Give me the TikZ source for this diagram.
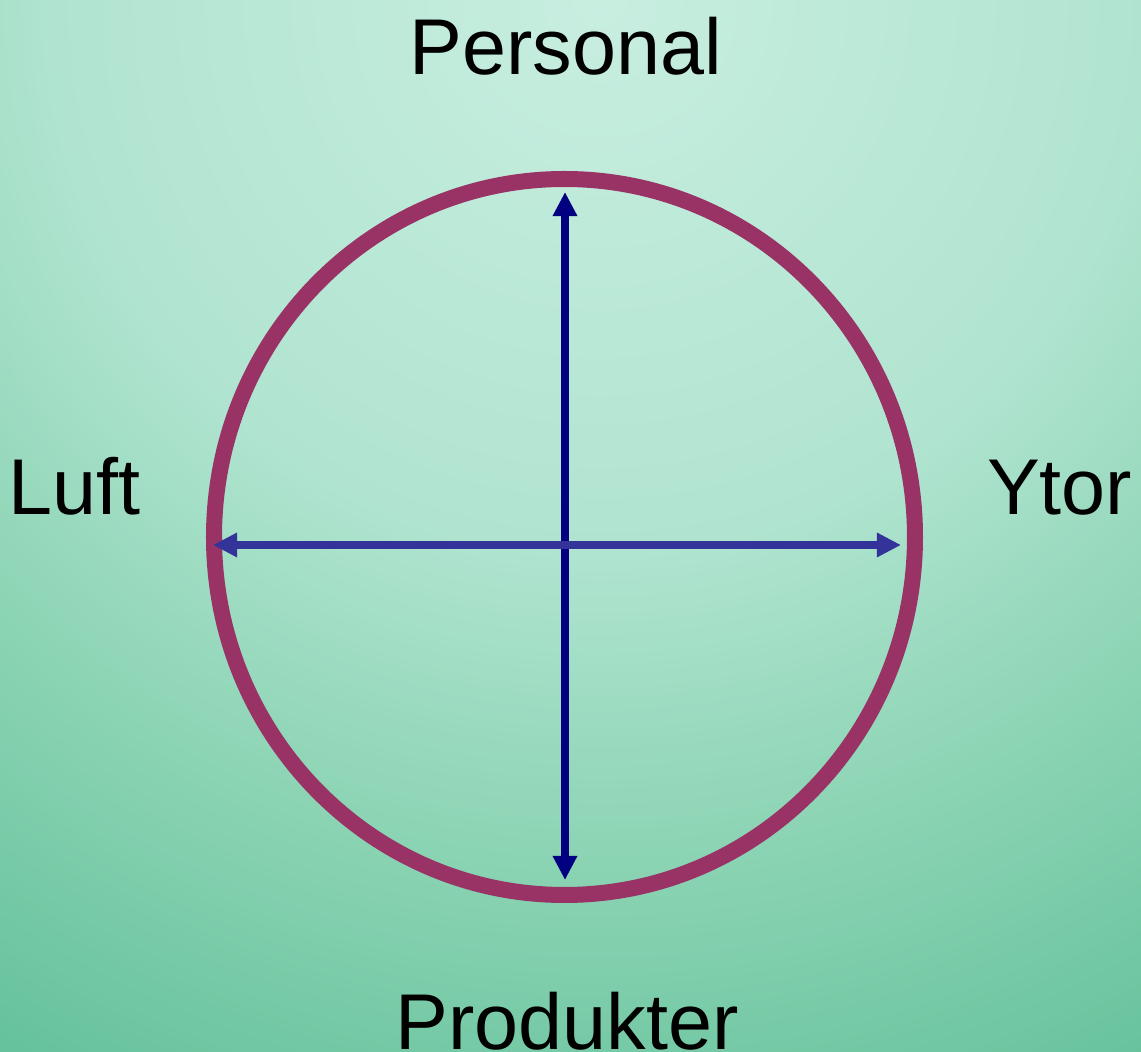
\documentclass[tikz,border=0pt]{standalone}
\usepackage{fontspec}
\setmainfont{Liberation Sans}
\usepackage{xcolor}
\usepackage{tikz}
\usetikzlibrary{positioning,arrows.meta}
\definecolor{ringred}{HTML}{993366}
\definecolor{axisnavy}{HTML}{000080}
\definecolor{axisblue}{HTML}{333399}
\definecolor{bgA}{HTML}{C8EEE0}
\definecolor{bgB}{HTML}{B0E4D0}
\definecolor{bgC}{HTML}{8CD4B4}
\definecolor{bgD}{HTML}{66C29C}
\pgfdeclareradialshading{bgglow}{\pgfpointorigin}{color(0bp)=(bgA); color(11bp)=(bgB); color(17bp)=(bgC); color(24bp)=(bgD); color(50bp)=(bgD)}
\tikzset{
  lbl/.style={font=\fontsize{22.5}{27}\selectfont,inner sep=0pt},
  axis/.style={line width=0.8mm,{Triangle[length=2.4mm,width=2.3mm]}-{Triangle[length=2.4mm,width=2.3mm]}}
}

\begin{document}
\begin{tikzpicture}[x=0.01cm,y=-0.01cm]
\useasboundingbox (0,0) rectangle (1141,1052);
% background
\begin{scope}
  \clip (0,0) rectangle (1141,1052);
  \shade[shading=bgglow] (-650,-1250) rectangle (1850,1250);
\end{scope}
% ring
\coordinate (c) at (564.5,537);
\draw[ringred,line width=1.6mm] (c) ellipse [x radius=350.5,y radius=358];
% axis ends
\coordinate (top) at (565,192);
\coordinate (bot) at (565,880);
\coordinate (lft) at (213,545);
\coordinate (rgt) at (901,545);
\draw[axis,axisnavy] (top) -- (bot);
\draw[axis,axisblue] (lft) -- (rgt);
% labels
\node[lbl,anchor=base] (pers) at (566,75) {Personal};
\node[lbl,anchor=base] (prod) at (567,1050) {Produkter};
\node[lbl,anchor=base west] (luft) at (8,515) {Luft};
\node[lbl,anchor=base east] (ytor) at (1133,515) {Ytor};
\end{tikzpicture}
\end{document}
